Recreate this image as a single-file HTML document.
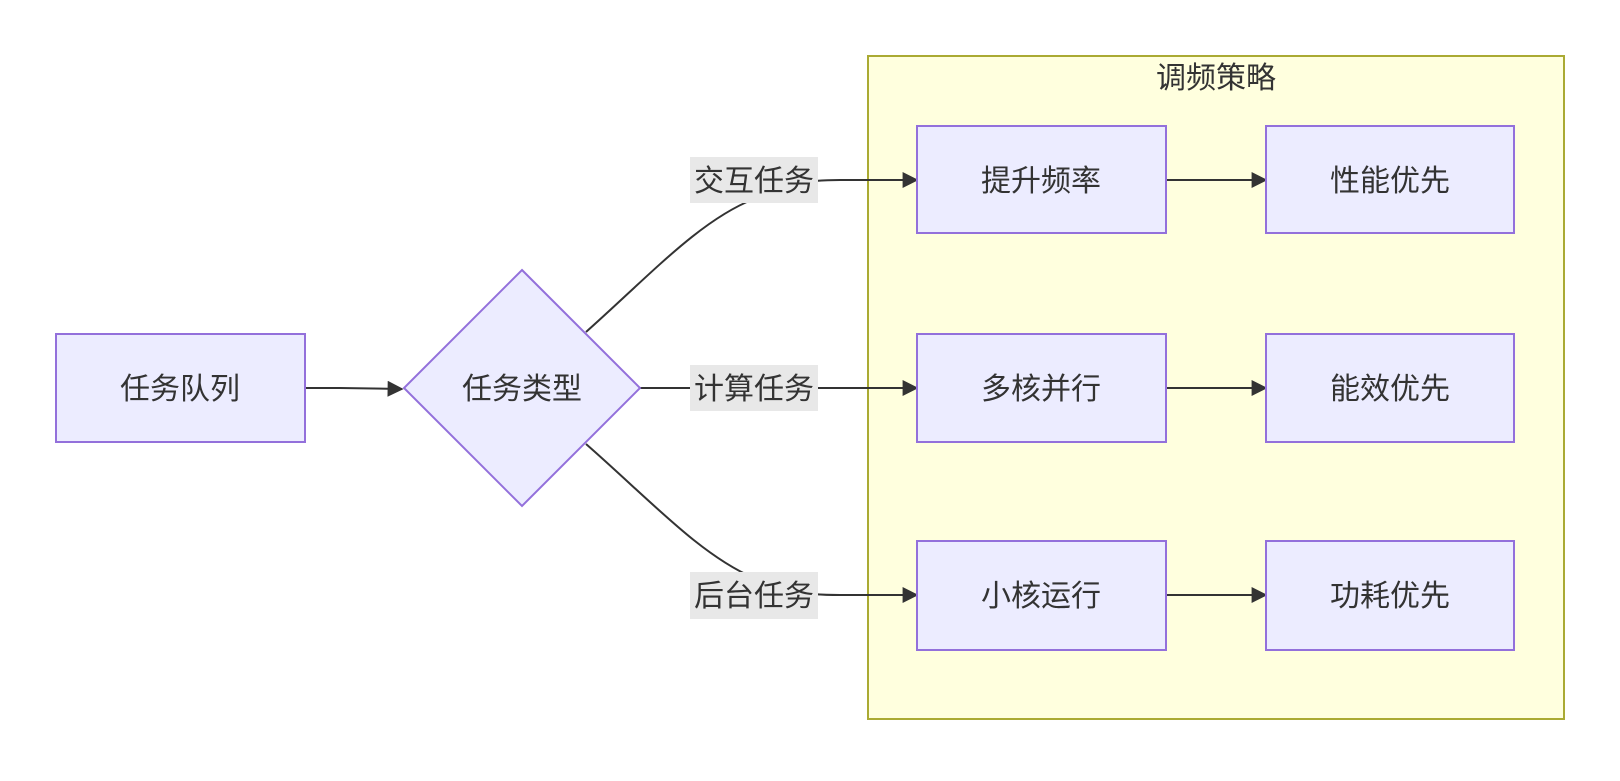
<!DOCTYPE html>
<html><head><meta charset="utf-8"><style>
body{margin:0;background:#fff;}
svg text{font-family:"Liberation Sans","Noto Sans CJK SC",sans-serif;fill:#333;}
</style></head><body>
<svg width="1620" height="776" viewBox="0 0 1620 776" xmlns="http://www.w3.org/2000/svg">
<defs><marker id="a" viewBox="0 0 10 10" refX="9" refY="5" markerWidth="8" markerHeight="8" orient="auto"><path d="M0,0L10,5L0,10z" fill="#333"/></marker></defs>
<rect x="868" y="56" width="696" height="663" fill="#ffffde" stroke="#aaaa33" stroke-width="2"/>
<text x="1216" y="88" font-size="30" text-anchor="middle">调频策略</text>
<g fill="none" stroke="#333" stroke-width="2">
<path d="M305,388 L340,388 L402,389" marker-end="url(#a)"/>
<path d="M586,332 C650,275 700,220 754,199 C790,185 800,180 840,180 L917,180" marker-end="url(#a)"/>
<path d="M640,388 L917,388" marker-end="url(#a)"/>
<path d="M586,444 C650,500 700,555 754,578 C790,592 800,595 840,595 L917,595" marker-end="url(#a)"/>
<path d="M1166,180 L1266,180" marker-end="url(#a)"/>
<path d="M1166,388 L1266,388" marker-end="url(#a)"/>
<path d="M1166,595 L1266,595" marker-end="url(#a)"/>
</g>
<g fill="#e8e8e8">
<rect x="690" y="157" width="128" height="46"/>
<rect x="690" y="365" width="128" height="46"/>
<rect x="690" y="572" width="128" height="47"/>
</g>
<g font-size="30" text-anchor="middle">
<text x="754" y="191">交互任务</text>
<text x="754" y="399">计算任务</text>
<text x="754" y="606">后台任务</text>
</g>
<g fill="#ececff" stroke="#9370db" stroke-width="2">
<rect x="56" y="334" width="249" height="108"/>
<polygon points="522,270 640,388 522,506 404,388"/>
<rect x="917" y="126" width="249" height="107"/>
<rect x="917" y="334" width="249" height="108"/>
<rect x="917" y="541" width="249" height="109"/>
<rect x="1266" y="126" width="248" height="107"/>
<rect x="1266" y="334" width="248" height="108"/>
<rect x="1266" y="541" width="248" height="109"/>
</g>
<g font-size="30" text-anchor="middle">
<text x="180" y="399">任务队列</text>
<text x="522" y="399">任务类型</text>
<text x="1041" y="191">提升频率</text>
<text x="1041" y="399">多核并行</text>
<text x="1041" y="606">小核运行</text>
<text x="1390" y="191">性能优先</text>
<text x="1390" y="399">能效优先</text>
<text x="1390" y="606">功耗优先</text>
</g>
</svg>
</body></html>
